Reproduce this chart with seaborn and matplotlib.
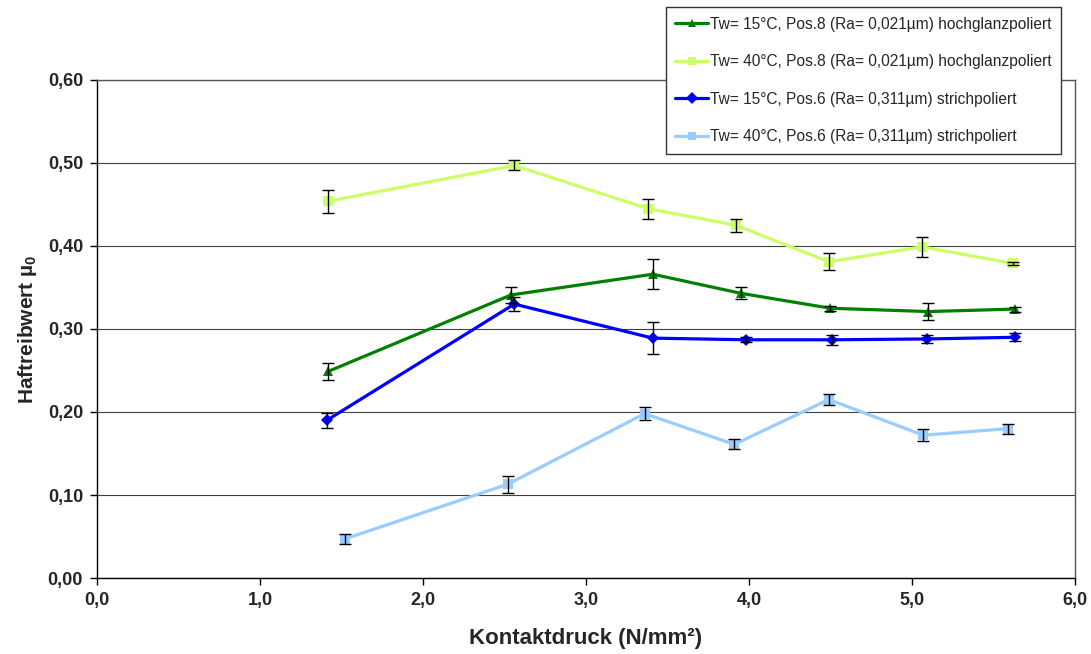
import matplotlib
matplotlib.use("Agg")
import matplotlib.pyplot as plt
from matplotlib.lines import Line2D
import seaborn as sns
import pandas as pd

# ---- data ----
labels = [
    "Tw= 15°C, Pos.8 (Ra= 0,021µm) hochglanzpoliert",
    "Tw= 40°C, Pos.8 (Ra= 0,021µm) hochglanzpoliert",
    "Tw= 15°C, Pos.6 (Ra= 0,311µm) strichpoliert",
    "Tw= 40°C, Pos.6 (Ra= 0,311µm) strichpoliert",
]
x_s1 = [1.42, 2.54, 3.41, 3.95, 4.50, 5.10, 5.63]
y_s1 = [0.249, 0.341, 0.366, 0.343, 0.325, 0.321, 0.324]
e_s1 = [0.010, 0.010, 0.018, 0.007, 0.003, 0.010, 0.003]

x_s2 = [1.42, 2.56, 3.38, 3.92, 4.49, 5.06, 5.62]
y_s2 = [0.454, 0.497, 0.445, 0.425, 0.381, 0.399, 0.379]
e_s2 = [0.014, 0.006, 0.012, 0.008, 0.010, 0.012, 0.002]

x_s3 = [1.41, 2.56, 3.41, 3.98, 4.51, 5.09, 5.63]
y_s3 = [0.190, 0.330, 0.289, 0.287, 0.287, 0.288, 0.290]
e_s3 = [0.009, 0.008, 0.019, 0.003, 0.006, 0.005, 0.005]

x_s4 = [1.52, 2.52, 3.36, 3.91, 4.49, 5.07, 5.59]
y_s4 = [0.047, 0.113, 0.198, 0.161, 0.215, 0.172, 0.180]
e_s4 = [0.006, 0.010, 0.008, 0.006, 0.007, 0.007, 0.006]

colors = ["#008000", "#CCFF66", "#0000FF", "#99CCFF"]
markers = ["^", "s", "D", "s"]
marker_sizes = [7.5, 7, 6.3, 7]

x_ticks = [0, 1, 2, 3, 4, 5, 6]
x_ticklabels = ["0,0", "1,0", "2,0", "3,0", "4,0", "5,0", "6,0"]
y_ticks = [0.0, 0.1, 0.2, 0.3, 0.4, 0.5, 0.6]
y_ticklabels = ["0,00", "0,10", "0,20", "0,30", "0,40", "0,50", "0,60"]

xs = [x_s1, x_s2, x_s3, x_s4]
ys = [y_s1, y_s2, y_s3, y_s4]
es = [e_s1, e_s2, e_s3, e_s4]

sns.set_theme(style="white")
plt.rcParams["font.family"] = ["Liberation Sans", "DejaVu Sans"]
plt.rcParams["mathtext.fontset"] = "custom"
plt.rcParams["mathtext.bf"] = "Liberation Sans:bold"
plt.rcParams["mathtext.rm"] = "Liberation Sans"

fig = plt.figure(figsize=(10.91, 6.54), dpi=100)
ax = fig.add_axes([0.0889, 0.1162, 0.8964, 0.7615])

for lab, xv, yv, c, m, ms in zip(labels, xs, ys, colors, markers, marker_sizes):
    d = pd.DataFrame({"x": xv, "y": yv})
    sns.lineplot(data=d, x="x", y="y", color=c, marker=m, markersize=ms,
                 markeredgewidth=0, linewidth=2.3, sort=False, estimator=None,
                 ax=ax, legend=False, zorder=3)

for xv, yv, ev in zip(xs, ys, es):
    ax.errorbar(xv, yv, yerr=ev, fmt="none", ecolor="black",
                elinewidth=1.0, capsize=4.5, capthick=1.0, zorder=4)

ax.set_xlim(0, 6)
ax.set_ylim(0, 0.6)
ax.set_xticks(x_ticks)
ax.set_xticklabels(x_ticklabels, fontsize=13, fontweight="bold")
ax.set_yticks(y_ticks)
ax.set_yticklabels(y_ticklabels, fontsize=13, fontweight="bold")
ax.tick_params(axis="both", direction="out", length=5, width=1, color="black",
               bottom=True, left=True, pad=5)
ax.yaxis.grid(True, color="#404040", linewidth=0.8)
ax.set_axisbelow(True)
ax.xaxis.grid(False)
for side in ["left", "bottom"]:
    ax.spines[side].set_color("black")
    ax.spines[side].set_linewidth(1.0)
for side in ["top", "right"]:
    ax.spines[side].set_color("#555555")
    ax.spines[side].set_linewidth(1.0)

ax.set_xlabel("Kontaktdruck (N/mm²)", fontsize=16, fontweight="bold", labelpad=14)
ax.set_ylabel(r"Haftreibwert µ$_\mathbf{0}$", fontsize=15, fontweight="bold", labelpad=6)

# legend
handles = [Line2D([], [], color=c, marker=m, markersize=6, linewidth=2.3,
                  markeredgewidth=0) for c, m in zip(colors, markers)]
leg = fig.legend(handles, labels, loc="upper left", bbox_to_anchor=(0.610, 0.989),
                 frameon=True, fancybox=False, edgecolor="#333333", framealpha=1,
                 fontsize=11.2, labelspacing=1.45, handlelength=2.15,
                 handletextpad=0.1, borderpad=0.6, borderaxespad=0)
leg.get_frame().set_linewidth(1.0)
leg.set_zorder(10)

fig.savefig("out.png", dpi=100, facecolor="white")
